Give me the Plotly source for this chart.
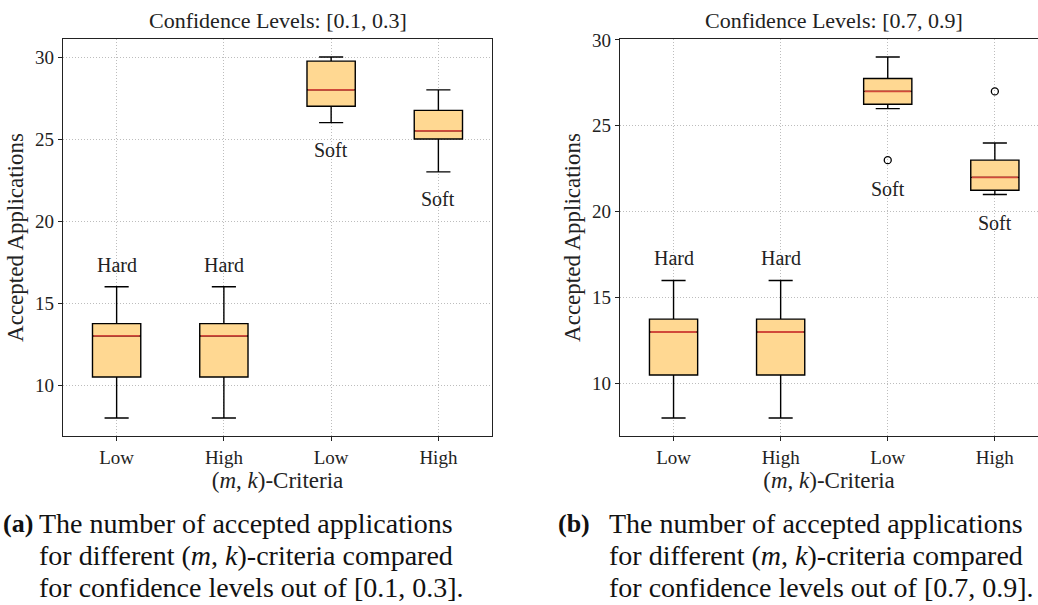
import plotly.graph_objects as go

# ---- data ----
positions = [1, 2, 3, 4]
tick_labels = ["Low", "High", "Low", "High"]
criteria_type = ["Hard", "Hard", "Soft", "Soft"]

# panel (a): confidence levels [0.1, 0.3]
a_lower = [8, 8, 26, 23]
a_q1 = [10.5, 10.5, 27, 25]
a_median = [13, 13, 28, 25.5]
a_q3 = [13.75, 13.75, 29.75, 26.75]
a_upper = [16, 16, 30, 28]
a_outliers = [[], [], [], []]

# panel (b): confidence levels [0.7, 0.9]
b_lower = [8, 8, 26, 21]
b_q1 = [10.5, 10.5, 26.25, 21.25]
b_median = [13, 13, 27, 22]
b_q3 = [13.75, 13.75, 27.75, 23]
b_upper = [16, 16, 29, 24]
b_outliers = [[], [], [23], [27]]

y_ticks = [10, 15, 20, 25, 30]
titles = ["Confidence Levels: [0.1, 0.3]", "Confidence Levels: [0.7, 0.9]"]
captions = [
    ["The number of accepted applications",
     "for different (<i>m</i>, <i>k</i>)-criteria compared",
     "for confidence levels out of [0.1, 0.3]."],
    ["The number of accepted applications",
     "for different (<i>m</i>, <i>k</i>)-criteria compared",
     "for confidence levels out of [0.7, 0.9]."],
]
caption_tags = ["(a)", "(b)"]

# ---- style ----
FONT = "Liberation Serif"
TXT = "#222222"
BOX_FILL = "#FFD892"
MEDIAN_COLOR = "#D1493A"
BOX_W = 0.45
W, H = 1038, 605

fig = go.Figure()

panels = [
    dict(lo=a_lower, q1=a_q1, med=a_median, q3=a_q3, hi=a_upper, out=a_outliers, xa="x", ya="y"),
    dict(lo=b_lower, q1=b_q1, med=b_median, q3=b_q3, hi=b_upper, out=b_outliers, xa="x2", ya="y2"),
]

for p in panels:
    fig.add_trace(go.Box(
        x=positions, q1=p["q1"], median=p["med"], q3=p["q3"],
        lowerfence=p["lo"], upperfence=p["hi"],
        width=BOX_W, whiskerwidth=0.5,
        fillcolor=BOX_FILL, line=dict(color="black", width=1.4),
        boxpoints=False, showlegend=False, hoverinfo="skip",
        xaxis=p["xa"], yaxis=p["ya"],
    ))
    mx, my = [], []
    for xi, m in zip(positions, p["med"]):
        mx += [xi - BOX_W / 2 + 0.01, xi + BOX_W / 2 - 0.01, None]
        my += [m, m, None]
    fig.add_trace(go.Scatter(x=mx, y=my, mode="lines",
                             line=dict(color=MEDIAN_COLOR, width=1.8),
                             showlegend=False, hoverinfo="skip",
                             xaxis=p["xa"], yaxis=p["ya"]))
    ox, oy = [], []
    for xi, outs in zip(positions, p["out"]):
        for v in outs:
            ox.append(xi)
            oy.append(v)
    if ox:
        fig.add_trace(go.Scatter(x=ox, y=oy, mode="markers",
                                 marker=dict(symbol="circle-open", color="black", size=7,
                                             line=dict(width=1.3)),
                                 showlegend=False, hoverinfo="skip",
                                 xaxis=p["xa"], yaxis=p["ya"]))
    # Hard / Soft labels
    for xi, kind, lo, hi, outs in zip(positions, criteria_type, p["lo"], p["hi"], p["out"]):
        if kind == "Hard":
            yv = max([hi] + outs) + 1.3
        else:
            yv = min([lo] + outs) - 1.67
        fig.add_annotation(x=xi, y=yv, text=kind, showarrow=False,
                           xref=p["xa"], yref=p["ya"],
                           font=dict(family=FONT, size=20, color=TXT),
                           xanchor="center", yanchor="middle")

# geometry (pixels)
y_top, y_bot = 39, 436
ydom = [(H - y_bot) / H, (H - y_top) / H]
x1_l, x1_r = 63, 492
x2_l = 620
px_per_unit2 = 107.1
x2_range_max = 0.5 + (W - x2_l) / px_per_unit2

axis_common = dict(
    automargin=False,
    showline=True, linecolor="#222", linewidth=1.3,
    ticks="outside", ticklen=4, tickcolor="#222", tickwidth=1,
    showgrid=True, gridcolor="#bdbdbd", griddash="1px,2px", gridwidth=1,
    zeroline=False,
    tickfont=dict(family=FONT, size=19, color=TXT),
    title_font=dict(family=FONT, size=23, color=TXT),
)

fig.update_layout(
    width=W, height=H,
    margin=dict(l=0, r=0, t=0, b=0),
    paper_bgcolor="white", plot_bgcolor="white",
    xaxis=dict(domain=[x1_l / W, x1_r / W], range=[0.5, 4.5], anchor="y",
               tickvals=positions, ticktext=tick_labels, mirror=True,
               title=dict(text="(<i>m</i>, <i>k</i>)-Criteria", standoff=2), **axis_common),
    yaxis=dict(domain=ydom, range=[6.9, 31.1], anchor="x",
               tickvals=y_ticks, mirror=True,
               title=dict(text="Accepted Applications", standoff=4), **axis_common),
    xaxis2=dict(domain=[x2_l / W, 1.0], range=[0.5, x2_range_max], anchor="y2",
                tickvals=positions, ticktext=tick_labels, mirror=True,
                title=dict(text="(<i>m</i>, <i>k</i>)-Criteria", standoff=2), **axis_common),
    yaxis2=dict(domain=ydom, range=[6.95, 30.05], anchor="x2",
                tickvals=y_ticks, mirror=False,
                title=dict(text="Accepted Applications", standoff=4), **axis_common),
)

# subplot titles
title_centers = [(x1_l + x1_r) / 2, (x2_l + x2_l + 4 * px_per_unit2) / 2]
for t, cx in zip(titles, title_centers):
    fig.add_annotation(x=cx / W, y=(H - 20) / H, xref="paper", yref="paper",
                       text=t, showarrow=False, xanchor="center", yanchor="middle",
                       font=dict(family=FONT, size=22, color=TXT))

# captions
cap_tag_x = [1, 556]
cap_text_x = [37, 607]
cap_line_y = [523, 555, 587]
for tag, lines, tx, cx in zip(caption_tags, captions, cap_tag_x, cap_text_x):
    fig.add_annotation(x=tx / W, y=(H - cap_line_y[0]) / H, xref="paper", yref="paper",
                       text="<b>" + tag + "</b>", showarrow=False,
                       xanchor="left", yanchor="middle",
                       font=dict(family=FONT, size=26, color="#111"))
    for ln, ly in zip(lines, cap_line_y):
        fig.add_annotation(x=cx / W, y=(H - ly) / H, xref="paper", yref="paper",
                           text=ln, showarrow=False, xanchor="left", yanchor="middle",
                           font=dict(family=FONT, size=28, color="#111"))

fig.write_html("out.html")
